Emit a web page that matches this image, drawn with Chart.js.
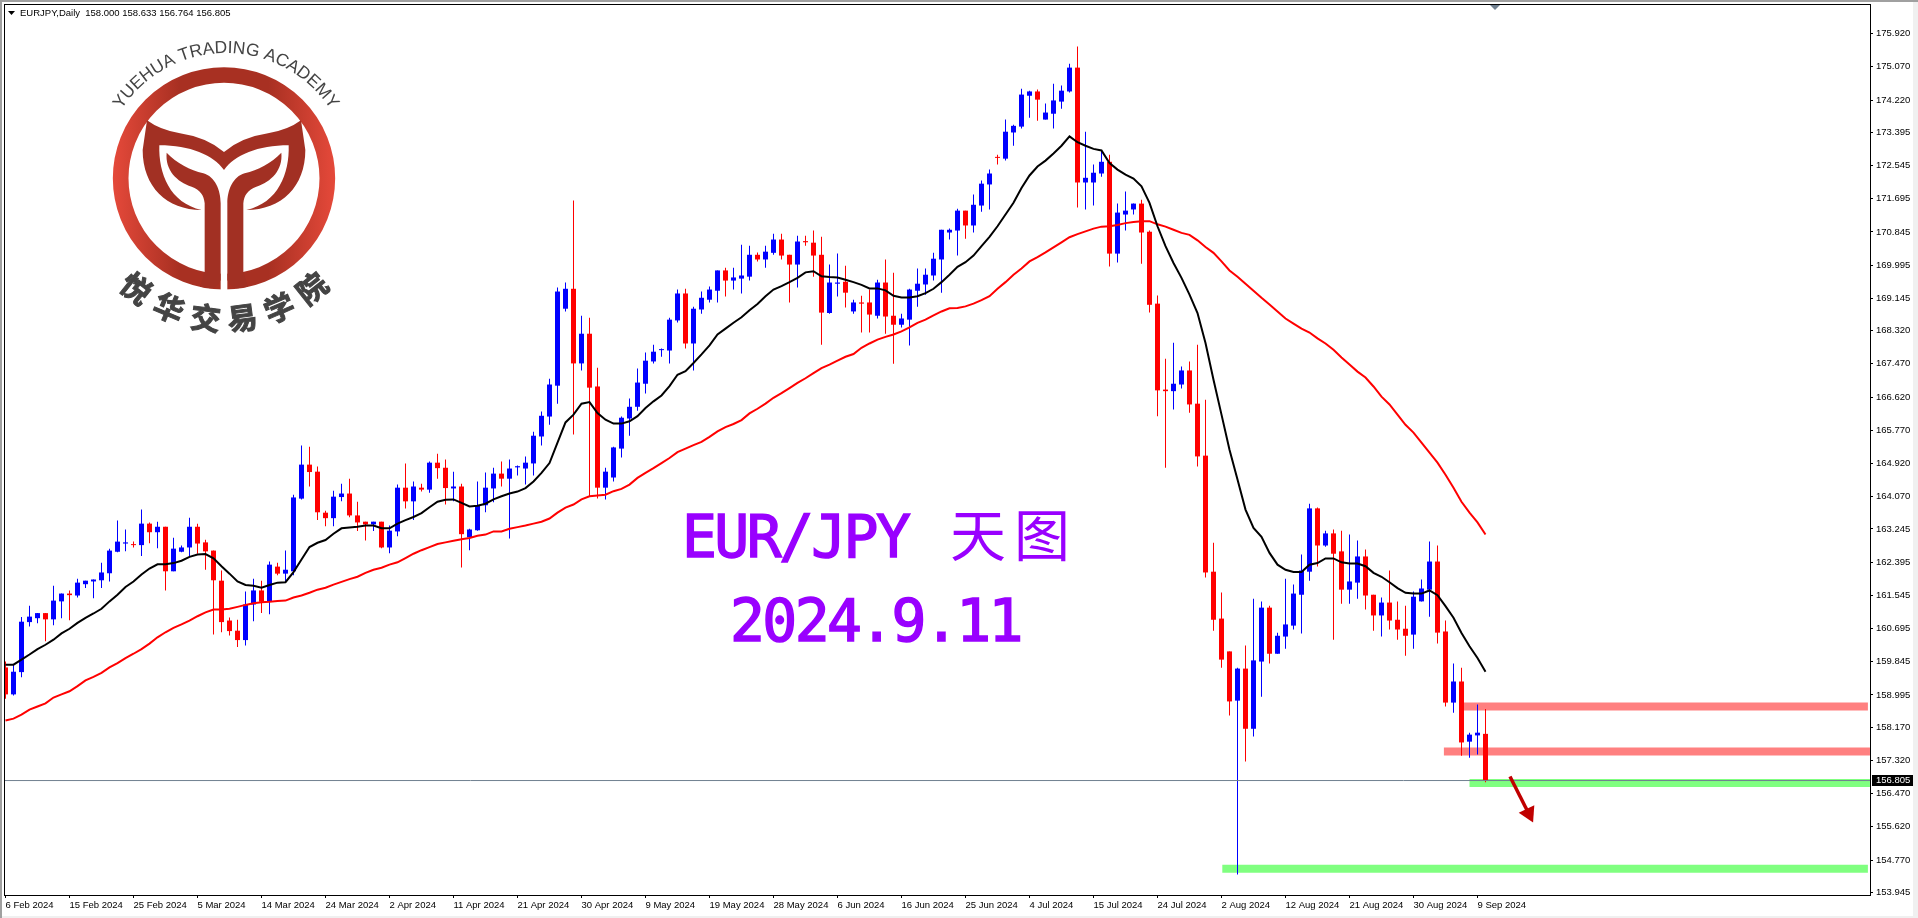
<!DOCTYPE html>
<html>
<head>
<meta charset="utf-8">
<title>EURJPY Daily</title>
<script src="https://cdn.jsdelivr.net/npm/chart.js@4"></script>
<style>
  body { margin: 0; background: #fff; }
  canvas { display: block; }
</style>
</head>
<body>
<canvas id="grafiks" width="1918" height="918"></canvas>
<script>
// candles, oldest first
const openP = [159.70,159.01,159.58,160.86,160.96,161.09,160.93,161.39,161.59,161.54,161.83,161.90,161.93,162.11,162.66,162.87,162.85,162.83,163.38,163.16,
163.30,162.16,162.66,162.77,163.30,162.90,162.69,161.92,160.90,160.64,160.40,161.31,161.67,161.38,162.28,162.10,162.16,164.02,164.89,164.71,
163.66,163.52,164.06,164.15,163.59,163.43,163.36,163.43,162.77,163.18,164.30,163.95,164.30,164.25,164.94,164.81,164.28,164.33,163.03,163.21,
163.85,164.28,164.66,164.53,164.82,164.79,164.92,165.61,166.12,166.91,168.88,169.39,167.48,168.24,166.89,164.30,164.56,165.30,166.07,166.37,
166.96,167.53,167.82,167.81,168.58,169.27,167.99,168.86,169.11,169.34,169.86,169.60,169.65,169.70,170.26,170.14,170.31,170.65,170.26,170.01,
170.61,170.57,170.26,168.77,169.52,169.57,168.81,169.04,169.04,168.70,169.55,168.70,168.47,168.60,169.34,169.50,169.73,170.14,170.83,170.88,
171.39,171.01,171.52,172.06,172.76,172.72,173.39,173.54,174.33,174.44,173.72,173.87,174.18,174.44,175.05,172.11,172.11,172.34,172.64,170.29,
171.29,171.42,171.57,170.85,169.01,166.81,166.77,166.94,167.30,166.45,165.12,162.15,160.95,160.11,158.85,159.67,158.13,159.85,161.23,160.05,
160.49,160.77,161.56,162.15,163.77,162.82,163.13,162.67,161.69,161.87,162.54,161.56,161.03,161.36,160.92,160.69,160.54,161.39,161.69,162.41,
160.62,158.80,159.34,157.80,157.96,158.000];
const highP = [159.85,159.77,160.99,161.28,161.09,161.09,161.79,161.59,161.67,161.97,161.92,161.95,162.38,162.74,163.46,163.23,162.92,163.74,163.41,163.43,
163.30,163.02,162.82,163.53,163.38,162.97,162.69,162.18,160.98,160.92,161.64,161.97,161.92,162.41,162.38,162.69,164.12,165.38,165.35,164.84,
163.71,164.22,164.40,164.53,163.94,163.43,163.43,163.43,163.33,164.38,164.92,164.46,164.40,164.97,165.17,165.02,164.71,164.40,163.25,164.46,
164.69,164.81,164.97,165.02,164.87,165.10,165.73,166.25,167.09,169.42,169.55,171.65,168.70,168.65,167.37,164.81,165.35,166.12,166.58,167.35,
167.76,167.96,167.86,168.65,169.37,169.39,168.93,169.32,169.45,169.86,169.93,169.93,170.52,170.49,170.32,170.49,170.80,170.80,170.26,170.75,
170.75,170.88,170.72,170.01,170.29,169.98,169.11,169.21,169.37,169.62,170.14,169.80,168.75,169.39,169.91,169.91,170.31,170.90,170.93,171.44,
171.39,171.80,172.16,172.44,172.82,173.72,173.59,174.51,174.46,174.49,174.13,174.64,174.59,175.15,175.59,173.41,172.57,172.93,172.82,171.57,
171.88,171.57,171.67,170.88,169.22,167.60,168.01,167.40,167.53,167.96,166.55,162.89,161.62,160.11,159.69,160.26,161.46,161.39,161.28,160.59,
161.97,161.82,162.59,163.89,163.79,163.20,163.23,163.20,163.10,162.95,162.72,161.56,161.49,162.18,161.39,161.28,161.64,161.95,162.92,162.82,
160.90,159.80,159.69,158.03,158.75,158.633];
const lowP = [158.90,158.98,159.45,160.75,160.83,160.37,160.78,160.96,160.91,161.49,161.73,161.47,161.73,161.90,162.65,162.67,162.77,162.55,162.88,162.75,
161.67,162.16,162.65,162.55,162.61,162.20,160.54,160.60,160.52,160.22,160.26,160.88,161.09,161.06,162.06,161.90,162.06,164.00,164.33,163.47,
163.31,163.31,163.95,163.54,163.19,162.95,163.19,162.75,162.62,163.06,163.77,163.47,164.20,164.17,164.53,163.87,163.95,162.26,162.70,163.20,
163.67,163.93,164.33,163.00,164.61,164.38,164.61,165.38,165.91,166.45,168.81,165.66,167.30,164.08,164.02,164.00,164.46,165.07,165.63,166.27,
166.71,167.48,167.65,167.48,168.53,167.86,167.30,168.75,169.04,169.04,169.19,169.37,169.27,169.60,170.09,169.93,170.26,170.14,169.04,169.42,
170.49,169.70,167.96,168.75,169.19,168.91,168.75,168.27,168.27,168.63,168.24,167.47,168.40,167.94,168.93,169.24,169.60,169.29,170.65,170.24,
170.67,170.83,171.36,171.42,172.57,172.67,173.05,173.49,173.77,173.69,173.72,173.49,174.00,174.41,171.47,171.42,171.52,172.26,169.96,170.06,
170.88,171.29,170.03,168.78,166.13,164.81,166.30,166.84,166.22,164.84,162.00,160.64,159.69,158.47,154.40,157.29,157.93,158.95,159.80,160.05,
160.18,160.67,160.57,161.92,162.28,162.79,160.41,161.33,161.33,161.46,161.18,160.64,160.49,160.67,160.41,160.00,160.18,161.39,161.00,160.31,
158.70,158.54,157.44,157.39,157.47,156.764];
const closeP = [159.01,159.59,160.87,161.00,161.09,160.93,161.41,161.59,161.55,161.87,161.92,161.95,162.13,162.69,162.92,162.90,162.83,163.38,163.16,163.30,
162.16,162.74,162.77,163.30,162.87,162.67,161.93,160.86,160.63,160.40,161.31,161.67,161.38,162.33,162.10,162.20,164.05,164.89,164.70,163.67,
163.52,164.07,164.15,163.59,163.41,163.36,163.43,162.77,163.20,164.30,163.95,164.33,164.25,164.94,164.80,164.29,164.33,163.11,163.23,163.84,
164.30,164.66,164.53,164.79,164.85,164.94,165.63,166.14,166.94,169.32,169.39,167.48,168.24,166.86,164.30,164.71,165.33,166.09,166.37,166.99,
167.55,167.78,167.84,168.60,169.27,167.99,168.88,169.16,169.37,169.86,169.60,169.68,169.73,170.26,170.14,170.34,170.65,170.24,170.01,170.60,
170.58,170.24,168.78,169.55,169.55,169.29,169.04,169.01,168.73,169.55,168.68,168.47,168.63,169.37,169.52,169.75,170.16,170.90,170.90,171.39,
171.01,171.54,172.08,172.34,172.74,173.41,173.56,174.36,174.44,174.23,173.90,174.21,174.46,175.05,172.11,172.23,172.36,172.64,170.29,171.34,
171.39,171.57,170.83,168.98,166.79,166.77,166.96,167.30,166.43,165.10,162.13,160.92,159.90,158.83,159.67,158.13,159.88,161.23,160.05,160.51,
160.80,161.59,162.18,163.77,162.82,163.13,162.61,161.69,161.90,162.54,161.54,161.03,161.36,160.90,160.67,160.51,161.51,161.72,162.41,160.59,
158.80,159.34,157.78,157.98,158.03,156.805];

// the two moving averages
const fastMa = [159.77,159.77,159.90,160.03,160.17,160.28,160.41,160.57,160.69,160.84,160.97,161.08,161.20,161.39,161.56,161.76,161.90,162.08,162.23,162.34,
162.34,162.37,162.43,162.53,162.59,162.60,162.49,162.29,162.10,161.90,161.81,161.79,161.74,161.81,161.87,161.88,162.14,162.46,162.78,162.89,
162.96,163.12,163.26,163.28,163.30,163.33,163.33,163.26,163.26,163.38,163.47,163.55,163.65,163.80,163.94,163.99,164.00,163.91,163.82,163.84,
163.89,164.00,164.08,164.15,164.20,164.29,164.46,164.68,164.93,165.45,165.97,166.17,166.45,166.49,166.21,166.04,165.94,165.94,166.00,166.13,
166.34,166.51,166.66,166.90,167.19,167.28,167.49,167.71,167.94,168.22,168.37,168.52,168.66,168.84,169.00,169.20,169.37,169.46,169.56,169.67,
169.81,169.84,169.71,169.69,169.68,169.62,169.56,169.49,169.40,169.40,169.35,169.21,169.17,169.17,169.20,169.28,169.39,169.56,169.75,169.95,
170.07,170.24,170.48,170.72,170.99,171.29,171.59,171.97,172.29,172.52,172.67,172.85,173.05,173.29,173.14,173.05,172.97,172.93,172.61,172.44,
172.31,172.21,172.01,171.59,170.99,170.48,170.05,169.67,169.24,168.77,168.00,167.06,166.17,165.27,164.51,163.74,163.27,163.04,162.63,162.33,
162.20,162.14,162.14,162.33,162.37,162.49,162.49,162.39,162.36,162.36,162.29,162.12,162.02,161.88,161.73,161.61,161.59,161.59,161.67,161.55,
161.27,160.97,160.58,160.24,159.94,159.59];
const slowMa = [158.34,158.39,158.49,158.62,158.70,158.78,158.93,159.01,159.09,159.22,159.37,159.46,159.56,159.70,159.81,159.94,160.05,160.17,160.31,160.47,
160.60,160.71,160.80,160.90,161.01,161.11,161.18,161.18,161.20,161.25,161.30,161.34,161.37,161.38,161.40,161.41,161.49,161.54,161.61,161.69,
161.74,161.82,161.89,161.96,162.02,162.12,162.20,162.25,162.33,162.39,162.50,162.61,162.70,162.78,162.86,162.90,162.94,162.98,163.01,163.07,
163.10,163.18,163.18,163.25,163.29,163.33,163.38,163.43,163.51,163.66,163.79,163.87,164.00,164.08,164.10,164.12,164.21,164.27,164.38,164.55,
164.68,164.80,164.93,165.06,165.21,165.30,165.39,165.47,165.60,165.74,165.85,165.93,166.03,166.20,166.32,166.45,166.60,166.72,166.85,166.98,
167.10,167.23,167.36,167.45,167.55,167.65,167.72,167.88,167.99,168.09,168.16,168.22,168.30,168.40,168.52,168.60,168.71,168.81,168.89,168.90,
168.94,169.01,169.10,169.20,169.39,169.56,169.75,169.91,170.09,170.20,170.32,170.45,170.58,170.71,170.79,170.86,170.93,170.98,170.99,171.02,
171.07,171.10,171.12,171.12,171.04,170.98,170.90,170.82,170.77,170.63,170.46,170.31,170.09,169.86,169.70,169.52,169.34,169.16,168.99,168.81,
168.63,168.50,168.37,168.27,168.12,167.99,167.83,167.63,167.45,167.27,167.12,166.89,166.63,166.43,166.17,165.91,165.71,165.45,165.20,164.94,
164.63,164.30,163.94,163.66,163.41,163.10];

// axis ticks
const dateTicks = [0,8,16,24,32,40,48,56,64,72,80,88,96,104,112,120,128,136,144,152,160,168,176,184];
const dateLabels = ["6 Feb 2024","15 Feb 2024","25 Feb 2024","5 Mar 2024","14 Mar 2024","24 Mar 2024","2 Apr 2024","11 Apr 2024","21 Apr 2024","30 Apr 2024","9 May 2024","19 May 2024","28 May 2024","6 Jun 2024","16 Jun 2024","25 Jun 2024","4 Jul 2024","15 Jul 2024","24 Jul 2024","2 Aug 2024","12 Aug 2024","21 Aug 2024","30 Aug 2024","9 Sep 2024"];
const priceTicks = [175.920,175.070,174.220,173.395,172.545,171.695,170.845,169.995,169.145,168.320,167.470,166.620,165.770,164.920,164.070,163.245,162.395,161.545,160.695,159.845,158.995,158.170,157.320,156.470,155.620,154.770,153.945];

// support / resistance zones drawn by hand on the chart
const zonePrice = [158.70,157.55,156.74,154.55];
const zoneFrom = [182.2,179.8,183.0,152.1];
const zoneTo = [232.8,233.06,233.06,232.8];
const zoneColor = ['#ff8080','#ff8080','#80ff80','#80ff80'];

// last price line and the arrow
const lastPrice = 156.805;
const arrowX = [188.06,190.4];
const arrowY = [156.91,155.96];

const xMin = -0.1875, xMax = 233.0625;
const yMin = 153.876, yMax = 176.678;
const labelFont = '9.5px "Liberation Sans"';

const candleColor = closeP.map((c, i) => (c >= openP[i] ? '#0000ff' : '#ff0000'));

// logo, coordinates are in thirds of a pixel, easier to read that way
function drawLogo(ctx) {
    ctx.save();
    ctx.scale(1 / 3, 1 / 3);

    const grad = ctx.createLinearGradient(338, 0, 1005, 0);
    grad.addColorStop(0, '#e5493a');
    grad.addColorStop(0.3, '#a83022');
    grad.addColorStop(0.7, '#a83022');
    grad.addColorStop(1, '#e5493a');

    ctx.strokeStyle = grad;
    ctx.lineWidth = 47;
    ctx.beginPath();
    ctx.arc(672, 535, 310, 0, Math.PI * 2);
    ctx.stroke();

    ctx.fillStyle = '#fff';
    ctx.fillRect(662, 790, 20, 90);

    ctx.fillStyle = '#a23023';
    [false, true].forEach(flip => {
        ctx.save();
        if (flip) { ctx.translate(1344, 0); ctx.scale(-1, 1); }
        // crown
        ctx.beginPath();
        ctx.moveTo(441, 361);
        ctx.quadraticCurveTo(480, 390, 540, 400);
        ctx.quadraticCurveTo(620, 412, 672, 456);
        ctx.lineTo(672, 510);
        ctx.bezierCurveTo(640, 465, 570, 436, 478, 436);
        ctx.bezierCurveTo(475, 520, 510, 610, 605, 630);
        ctx.bezierCurveTo(500, 630, 428, 560, 428, 450);
        ctx.closePath();
        ctx.fill();
        // inner leaf and stem
        ctx.beginPath();
        ctx.moveTo(500, 458);
        ctx.bezierCurveTo(530, 490, 570, 510, 610, 520);
        ctx.bezierCurveTo(645, 530, 662, 570, 662, 610);
        ctx.lineTo(662, 840);
        ctx.bezierCurveTo(655, 855, 645, 865, 630, 865);
        ctx.lineTo(600, 860);
        ctx.lineTo(614, 815);
        ctx.lineTo(614, 610);
        ctx.bezierCurveTo(612, 585, 600, 570, 575, 560);
        ctx.bezierCurveTo(530, 545, 495, 510, 500, 458);
        ctx.closePath();
        ctx.fill();
        ctx.restore();
    });
    ctx.restore();

    // text on the arc
    const cx = 224, cy = 178;
    ctx.save();
    ctx.fillStyle = '#444';
    ctx.strokeStyle = '#444';
    ctx.textAlign = 'center';
    ctx.textBaseline = 'alphabetic';
    ctx.font = '17.5px "Liberation Sans"';
    const name = 'YUEHUA TRADING ACADEMY';
    const r = 125;
    let total = 0;
    for (const ch of name) total += ctx.measureText(ch).width;
    let pos = -total / 2;
    for (const ch of name) {
        const w = ctx.measureText(ch).width;
        ctx.save();
        ctx.translate(cx + 2, cy);
        ctx.rotate((pos + w / 2) / r);
        ctx.fillText(ch, 0, -r);
        ctx.restore();
        pos += w;
    }

    ctx.textBaseline = 'middle';
    ctx.font = 'bold 30px "Noto Sans CJK SC"';
    ctx.lineWidth = 1;
    const chars = ['悦', '华', '交', '易', '学', '院'];
    const angles = [38.5, 23, 7.5, -7.5, -23, -38.5];
    chars.forEach((ch, i) => {
        const a = angles[i] * Math.PI / 180;
        ctx.save();
        ctx.translate(cx, cy);
        ctx.rotate(a);
        ctx.fillText(ch, 0, 141);
        ctx.strokeText(ch, 0, 141);
        ctx.restore();
    });
    ctx.restore();
}

const decorPlugin = {
    id: 'decor',
    beforeDatasetsDraw(chart) {
        drawLogo(chart.ctx);
    },
    afterDraw(chart) {
        const ctx = chart.ctx;
        const y = chart.scales.y;

        // frame
        ctx.save();
        ctx.strokeStyle = '#000';
        ctx.lineWidth = 1;
        ctx.strokeRect(4.5, 4.5, 1866, 891);

        // window edges
        ctx.fillStyle = '#a0a0a0';
        ctx.fillRect(0, 0, 1918, 2);
        ctx.fillRect(0, 0, 2, 918);
        ctx.fillStyle = '#f0f0f0';
        ctx.fillRect(1913, 2, 5, 916);
        ctx.fillRect(2, 916, 1916, 2);

        // header
        ctx.fillStyle = '#000';
        ctx.beginPath();
        ctx.moveTo(8, 11);
        ctx.lineTo(15, 11);
        ctx.lineTo(11.5, 15);
        ctx.closePath();
        ctx.fill();
        ctx.font = labelFont;
        ctx.textAlign = 'left';
        ctx.textBaseline = 'middle';
        ctx.fillText('EURJPY,Daily  158.000 158.633 156.764 156.805', 20, 13);

        // small shift marker at the top
        ctx.fillStyle = '#708090';
        ctx.beginPath();
        ctx.moveTo(1490, 5);
        ctx.lineTo(1500, 5);
        ctx.lineTo(1495, 10);
        ctx.closePath();
        ctx.fill();

        // last price box
        const py = Math.floor(y.getPixelForValue(lastPrice));
        ctx.fillStyle = '#000';
        ctx.fillRect(1872, py - 5, 41, 11);
        ctx.fillStyle = '#fff';
        ctx.fillText(lastPrice.toFixed(3), 1876, py + 0.5);

        // title in the middle
        ctx.fillStyle = '#9900ff';
        ctx.strokeStyle = '#9900ff';
        ctx.lineWidth = 1.5;
        ctx.textBaseline = 'alphabetic';
        ctx.font = '58px "DejaVu Sans Mono"';
        ctx.letterSpacing = '-2.6px';
        ctx.fillText('EUR/JPY', 682, 557);
        ctx.strokeText('EUR/JPY', 682, 557);
        ctx.fillText('2024.9.11', 730, 641);
        ctx.strokeText('2024.9.11', 730, 641);
        ctx.letterSpacing = '0px';
        ctx.font = '56px "Noto Sans CJK SC"';
        ctx.fillText('天', 950, 556);
        ctx.fillText('图', 1014, 556);
        ctx.restore();
    }
};

const wickData = highP.map((h, i) => ({ x: i, y: [lowP[i], h] }));
const bodyData = openP.map((o, i) => ({ x: i, y: [o, closeP[i]] }));

const datasets = [];

zonePrice.forEach((p, i) => {
    datasets.push({
        type: 'line',
        data: [{ x: zoneFrom[i], y: p }, { x: zoneTo[i], y: p }],
        borderColor: zoneColor[i],
        borderWidth: 8,
        pointRadius: 0,
        order: 10
    });
});

datasets.push({
    type: 'bar',
    data: wickData,
    backgroundColor: candleColor,
    barThickness: 1,
    grouped: false,
    inflateAmount: 0,
    order: 8
});
datasets.push({
    type: 'bar',
    data: bodyData,
    backgroundColor: candleColor,
    barThickness: 5,
    minBarLength: 1,
    grouped: false,
    inflateAmount: 0,
    order: 7
});
datasets.push({
    type: 'line',
    data: slowMa.map((v, i) => ({ x: i, y: v })),
    borderColor: '#ff0000',
    borderWidth: 2,
    pointRadius: 0,
    order: 6
});
datasets.push({
    type: 'line',
    data: fastMa.map((v, i) => ({ x: i, y: v })),
    borderColor: '#000000',
    borderWidth: 2,
    pointRadius: 0,
    order: 5
});
datasets.push({
    type: 'line',
    data: [{ x: xMin, y: lastPrice }, { x: xMax, y: lastPrice }],
    borderColor: '#708090',
    borderWidth: 1,
    pointRadius: 0,
    order: 4
});
datasets.push({
    type: 'line',
    data: arrowX.map((x, i) => ({ x: x, y: arrowY[i] })),
    borderColor: '#c00000',
    borderWidth: 3.5,
    pointRadius: [0, 10],
    pointStyle: 'triangle',
    pointRotation: 154,
    pointBackgroundColor: '#c00000',
    pointBorderWidth: 0,
    order: 3
});

new Chart(document.getElementById('grafiks'), {
    data: { datasets: datasets },
    plugins: [decorPlugin],
    options: {
        responsive: false,
        animation: false,
        layout: { autoPadding: false, padding: { left: 4, top: 4, right: 0, bottom: 0 } },
        plugins: {
            legend: { display: false },
            tooltip: { enabled: false },
            title: { display: false }
        },
        scales: {
            x: {
                type: 'linear',
                offset: false,
                min: xMin,
                max: xMax,
                afterBuildTicks: axis => { axis.ticks = dateTicks.map(v => ({ value: v })); },
                afterFit: axis => { axis.height = 23; axis.paddingLeft = 0; axis.paddingRight = 0; },
                grid: { offset: false, drawOnChartArea: false, drawTicks: true, tickLength: 3, color: '#000' },
                border: { display: false },
                ticks: {
                    autoSkip: false,
                    maxRotation: 0,
                    align: 'start',
                    padding: 2,
                    color: '#000',
                    font: { family: 'Liberation Sans', size: 9.5 },
                    callback: (value, index) => dateLabels[index]
                }
            },
            y: {
                type: 'linear',
                position: 'right',
                min: yMin,
                max: yMax,
                afterBuildTicks: axis => { axis.ticks = priceTicks.map(v => ({ value: v })); },
                afterFit: axis => { axis.width = 48; axis.paddingTop = 0; axis.paddingBottom = 0; },
                grid: { drawOnChartArea: false, drawTicks: true, tickLength: 3, color: '#000' },
                border: { display: false },
                ticks: {
                    autoSkip: false,
                    padding: 3,
                    color: '#000',
                    font: { family: 'Liberation Sans', size: 9.5 },
                    callback: value => value.toFixed(3)
                }
            }
        }
    }
});
</script>
</body>
</html>
